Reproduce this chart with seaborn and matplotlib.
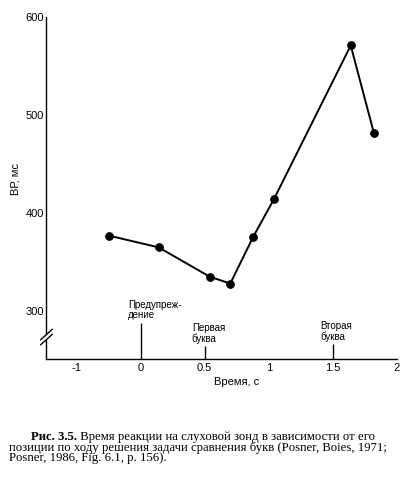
import matplotlib
matplotlib.use("Agg")
import matplotlib.pyplot as plt
import pandas as pd
import seaborn as sns

# probe position (s) and reaction time (ms)
time_s = [-0.25, 0.14, 0.54, 0.70, 0.88, 1.04, 1.64, 1.82]
rt_ms = [377, 365, 335, 328, 376, 414, 571, 482]

x_ticks = [-0.5, 0, 0.5, 1, 1.5, 2]
x_tick_labels = ["-1", "0", "0.5", "1", "1.5", "2"]
y_ticks = [300, 400, 500, 600]
y_minor = [350, 450, 550]

events = [0, 0.5, 1.5]
event_tops = [288, 264, 266]
event_labels = ["Предупреж-\nдение", "Первая\nбуква", "Вторая\nбуква"]

caption_bold = "Рис. 3.5."
caption_lines = [
    " Время реакции на слуховой зонд в зависимости от его",
    "позиции по ходу решения задачи сравнения букв (Posner, Boies, 1971;",
    "Posner, 1986, Fig. 6.1, p. 156).",
]

df = pd.DataFrame({"t": time_s, "rt": rt_ms})

sns.set_style("white")
plt.rcParams["font.family"] = ["Liberation Sans", "DejaVu Sans"]
plt.rcParams["text.color"] = "black"
plt.rcParams["axes.labelcolor"] = "black"
plt.rcParams["xtick.color"] = "black"
plt.rcParams["ytick.color"] = "black"

fig = plt.figure(figsize=(4.16, 4.80), dpi=100)
ax = fig.add_axes([0.110, 0.252, 0.844, 0.7125])

sns.lineplot(data=df, x="t", y="rt", ax=ax, color="black", linewidth=1.4,
             marker="o", markersize=5.5, markeredgecolor="black", markerfacecolor="black")

ax.set_xlim(-0.74, 2.0)
ax.set_ylim(251, 600)
ax.set_xticks(x_ticks)
ax.set_xticklabels(x_tick_labels)
ax.set_yticks(y_ticks)
ax.set_yticks(y_minor, minor=True)
ax.tick_params(axis="x", direction="in", length=4.5, width=1, pad=3, labelsize=8)
ax.tick_params(axis="y", which="both", direction="in", length=3.5, width=1, pad=1.5, labelsize=8)

for side in ["top", "right"]:
    ax.spines[side].set_visible(False)
for side in ["left", "bottom"]:
    ax.spines[side].set_color("black")
    ax.spines[side].set_linewidth(1)

# broken y axis
ax.spines["left"].set_bounds(278, 600)
ax.plot([0, 0], [251, 270], transform=ax.get_yaxis_transform(), color="black",
        linewidth=1, clip_on=False)
brk = dict(marker=[(-1, -0.9), (1, 0.9)], markersize=9, linestyle="none",
           color="black", mec="black", mew=1, clip_on=False, transform=ax.get_yaxis_transform())
ax.plot([0, 0], [271, 277], **brk)

# event markers
ax.vlines(events, 251, event_tops, color="black", linewidth=1)
for x, top, lbl in zip(events, event_tops, event_labels):
    ax.text(x - 0.10, top + 2.5, lbl, ha="left", va="bottom", fontsize=7, linespacing=1.0)

ax.set_xlabel("Время, с", fontsize=8)
ax.xaxis.set_label_coords(0.543, -0.067)
ax.xaxis.label.set_va("center")
ax.set_ylabel("ВР, мс", fontsize=8)
ax.yaxis.set_label_coords(-0.087, 0.525)
ax.yaxis.label.set_va("center")

# caption
serif = ["Liberation Serif", "DejaVu Serif"]
cap_size = 9.2
b = fig.text(31 / 416, 1 - 440 / 480, caption_bold, fontsize=cap_size, fontweight="bold",
             family=serif, va="baseline", ha="left")
fig.canvas.draw()
ext = b.get_window_extent(fig.canvas.get_renderer())
fig.text(ext.x1 / fig.bbox.width, 1 - 440 / 480, caption_lines[0], fontsize=cap_size,
         family=serif, va="baseline", ha="left")
fig.text(9 / 416, 1 - 450.5 / 480, caption_lines[1], fontsize=cap_size,
         family=serif, va="baseline", ha="left")
fig.text(9 / 416, 1 - 461 / 480, caption_lines[2], fontsize=cap_size,
         family=serif, va="baseline", ha="left")

fig.savefig("out.png", dpi=100)
